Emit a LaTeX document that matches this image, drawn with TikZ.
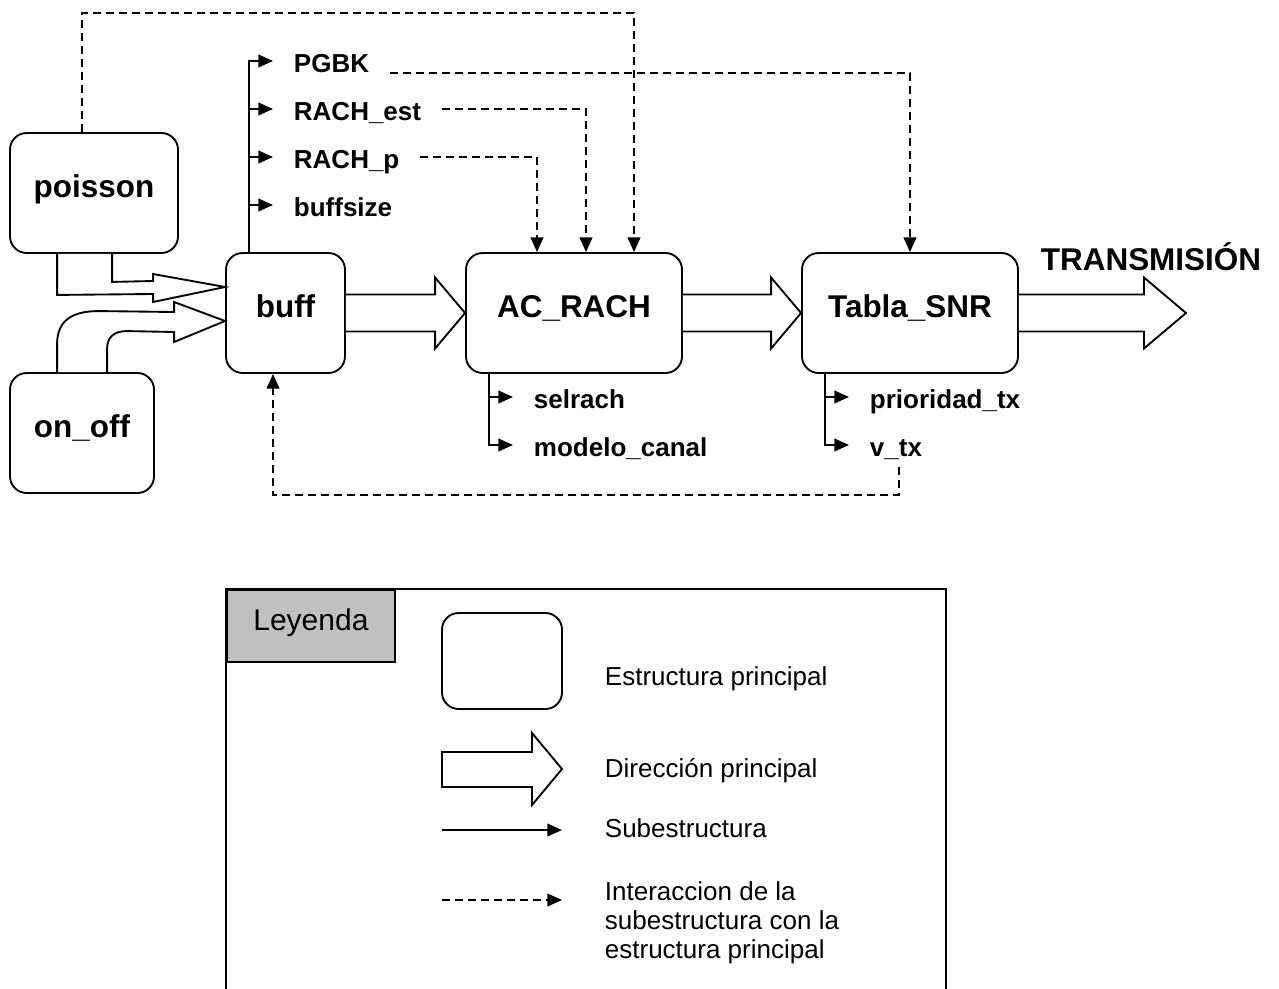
\documentclass[tikz,border=0pt]{standalone}
\usepackage{fontspec}
\setmainfont{Liberation Sans}
\usetikzlibrary{arrows.meta,calc}
\definecolor{leggray}{RGB}{192,192,192}
\begin{document}
\begin{tikzpicture}[x=0.75pt,y=-0.75pt,
  line width=1.4pt, line join=miter,
  mainbox/.style={draw, rounded corners=12.5pt, minimum height=90pt, inner sep=0pt,
    font=\fontsize{23.6}{28}\selectfont\bfseries, text height=12pt, text depth=5pt},
  sublabel/.style={inner xsep=15pt, inner ysep=0pt, anchor=west,
    font=\fontsize{19.5}{23}\selectfont\bfseries, text height=18pt, text depth=1.5pt},
  subarr/.style={-{Triangle[length=11pt,width=9.5pt]}},
  dasharr/.style={dash pattern=on 6pt off 3.75pt, -{Triangle[length=11pt,width=9.5pt]}},
  blockarr/.style={draw, fill=white, line join=miter},
  legtext/.style={anchor=base west, inner sep=0pt, font=\fontsize{19.5}{21.75}\selectfont, align=left},
]
\useasboundingbox (0,0) rectangle (1279,989);

% main structures
\node[mainbox, minimum width=126pt] (poisson) at (94,193) {poisson};
\node[mainbox, minimum width=108pt] (onoff) at (82,433) {on\_off};
\node[mainbox, minimum width=89.25pt] (buff) at (285.5,313) {buff};
\node[mainbox, minimum width=162pt] (acrach) at (574,313) {AC\_RACH};
\node[mainbox, minimum width=162pt] (tabla) at (910,313) {Tabla\_SNR};
\node[anchor=base, inner sep=0pt, font=\fontsize{23.6}{28}\selectfont\bfseries] (tx) at (1151,270) {TRANSMISIÓN};
\coordinate (txtip) at (1186,313);

% block arrows (main direction)
\draw[blockarr] ($(poisson.south west)+(48,0)$) -- ($(poisson.south west)+(48,41)$)
  -- ($(buff.west)+(-72,-19)$) -- ($(buff.west)+(-72,-11)$) -- ($(buff.west)+(0,-26)$)
  -- ($(buff.west)+(-72,-39)$) -- ($(buff.west)+(-72,-32)$)
  -- ($(poisson.south west)+(103,28)$) -- ($(poisson.south west)+(103,0)$);
\draw[blockarr] ($(onoff.north west)+(48,0)$) -- ($(onoff.north west)+(48,-28)$)
  .. controls ($(onoff.north west)+(48,-55)$) and ($(onoff.north west)+(68,-61)$) .. ($(onoff.north west)+(90,-61)$)
  -- ($(buff.west)+(-51,-1)$) -- ($(buff.west)+(-51,-11)$) -- ($(buff.west)+(0,8)$)
  -- ($(buff.west)+(-51,29)$) -- ($(buff.west)+(-51,19)$)
  -- ($(onoff.north west)+(118,-41)$)
  .. controls ($(onoff.north west)+(105,-41)$) and ($(onoff.north west)+(98,-35)$) .. ($(onoff.north west)+(98,-23)$)
  -- ($(onoff.north west)+(98,0)$);
\draw[blockarr] ($(buff.east)+(0,-18.5)$) -- ($(acrach.west)+(-30,-18.5)$) -- ($(acrach.west)+(-30,-35.5)$)
  -- (acrach.west) -- ($(acrach.west)+(-30,35.5)$) -- ($(acrach.west)+(-30,18.5)$) -- ($(buff.east)+(0,18.5)$);
\draw[blockarr] ($(acrach.east)+(0,-18.5)$) -- ($(tabla.west)+(-30,-18.5)$) -- ($(tabla.west)+(-30,-35.5)$)
  -- (tabla.west) -- ($(tabla.west)+(-30,35.5)$) -- ($(tabla.west)+(-30,18.5)$) -- ($(acrach.east)+(0,18.5)$);
\draw[blockarr] ($(tabla.east)+(0,-18.5)$) -- ($(txtip)+(-42,-18.5)$) -- ($(txtip)+(-42,-35.5)$)
  -- (txtip) -- ($(txtip)+(-42,35.5)$) -- ($(txtip)+(-42,18.5)$) -- ($(tabla.east)+(0,18.5)$);

% substructures of buff
\node[sublabel] (pgbk) at (273,61) {PGBK};
\node[sublabel] (rachest) at (273,109) {RACH\_est};
\node[sublabel] (rachp) at (273,157) {RACH\_p};
\node[sublabel] (buffsize) at (273,205) {buffsize};
\coordinate (bt) at ($(buff.north west)+(24,0)$);
\draw[subarr] (bt) |- (pgbk.west);
\draw[subarr] (bt |- rachest.west) -- (rachest.west);
\draw[subarr] (bt |- rachp.west) -- (rachp.west);
\draw[subarr] (bt |- buffsize.west) -- (buffsize.west);

% substructures of AC_RACH
\node[sublabel] (selrach) at (513,397) {selrach};
\node[sublabel] (modelo) at (513,445) {modelo\_canal};
\coordinate (at) at ($(acrach.south west)+(24,0)$);
\draw[subarr] (at) |- (modelo.west);
\draw[subarr] (at |- selrach.west) -- (selrach.west);

% substructures of Tabla_SNR
\node[sublabel] (prio) at (849,397) {prioridad\_tx};
\node[sublabel] (vtx) at (849,445) {v\_tx};
\coordinate (tt) at ($(tabla.south west)+(24,0)$);
\draw[subarr] (tt) |- (vtx.west);
\draw[subarr] (tt |- prio.west) -- (prio.west);

% interactions (dashed)
\draw[dasharr] ($(poisson.north)+(-12,0)$) -- ++(0,-119) -| ($(acrach.north)+(60,0)$);
\draw[dasharr] ($(pgbk.east)+(0,12)$) -| (tabla.north);
\draw[dasharr] (rachest.east) -| ($(acrach.north)+(12,0)$);
\draw[dasharr] (rachp.east) -| ($(acrach.north)+(-37,0)$);
\draw[dasharr] ($(vtx.south)+(3,8)$) -- ++(0,28) -| ($(buff.south)+(-12.5,0)$);

% legend
\draw (226,989) -- (226,589) -- (946,589) -- (946,989);
\node[draw, fill=leggray, anchor=north west, minimum width=126pt, minimum height=54pt, inner sep=0pt,
  font=\fontsize{22.5}{26}\selectfont, text height=12pt, text depth=4.5pt] (leghead) at (226,589) {Leyenda};
\node[draw, rounded corners=12.5pt, minimum width=90pt, minimum height=72pt, inner sep=0pt] (legbox) at (502,661) {};
\draw[blockarr] (442,752) -- (532,752) -- (532,733) -- (562,769) -- (532,805) -- (532,787) -- (442,787) -- cycle;
\coordinate (ls1) at (442,830);
\coordinate (le1) at (562,830);
\coordinate (ls2) at (442,900);
\coordinate (le2) at (562,900);
\draw[subarr] (ls1) -- (le1);
\draw[dasharr] (ls2) -- (le2);
\node[legtext] (lt1) at (604,685) {Estructura principal};
\node[legtext] (lt2) at (604,777) {Dirección principal};
\node[legtext] (lt3) at (604,837) {Subestructura};
\node[legtext] (lt4) at (604,958) {Interaccion de la\\subestructura con la\\estructura principal};
\end{tikzpicture}
\end{document}
